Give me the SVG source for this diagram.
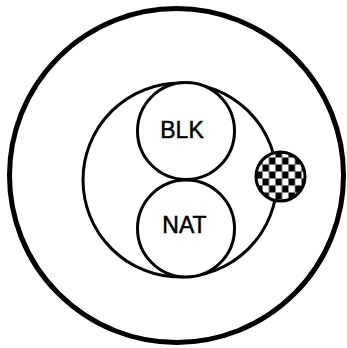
<svg xmlns="http://www.w3.org/2000/svg" width="347" height="348" viewBox="0 0 347 348">
<style>
.c{fill:#fff;stroke:#000;stroke-width:3}
.t{font-family:"Liberation Sans",Arial,sans-serif;font-size:23px;fill:#000;stroke:#000;stroke-width:0.5;text-anchor:middle}
</style>
<defs>
<pattern id="chk" patternUnits="userSpaceOnUse" x="275.5" y="157.5" width="13" height="14">
<rect width="13" height="14" fill="#000"/>
<rect width="6.5" height="7" fill="#fff"/>
<rect x="6.5" y="7" width="6.5" height="7" fill="#fff"/>
</pattern>
</defs>
<rect width="347" height="348" fill="#fff"/>
<g id="outer"><circle cx="176.5" cy="175.5" r="167" fill="none" stroke="#000" stroke-width="5"/></g>
<g id="middle"><circle class="c" cx="180" cy="180" r="97"/></g>
<g id="blk"><circle class="c" cx="186" cy="131" r="48.5"/><text class="t" x="182" y="138">BLK</text></g>
<g id="nat"><circle class="c" cx="186" cy="228.5" r="48.5"/><text class="t" x="184.5" y="233">NAT</text></g>
<g id="checker"><circle cx="280.5" cy="176.5" r="24.5" fill="url(#chk)" stroke="#000" stroke-width="3"/></g>
<g id="connectors"></g>
</svg>
